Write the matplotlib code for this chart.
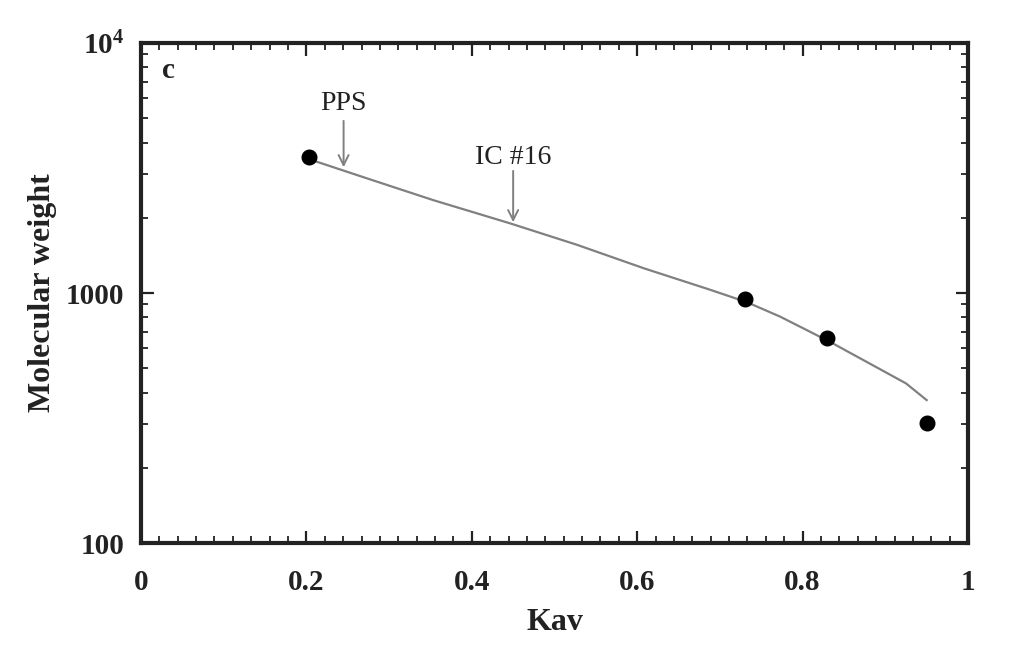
import matplotlib

matplotlib.use("Agg")

import matplotlib.pyplot as plt
from matplotlib.ticker import FixedLocator, FixedFormatter, LogLocator, NullFormatter, MultipleLocator

plt.rcParams["font.family"] = ["Liberation Serif", "DejaVu Serif"]
plt.rcParams["mathtext.fontset"] = "custom"
plt.rcParams["mathtext.rm"] = "Liberation Serif"
plt.rcParams["mathtext.bf"] = "Liberation Serif:bold"

# measured standards (Kav, MW)
kav_pts = [0.203, 0.73, 0.83, 0.95]
mw_pts = [3490, 944, 659, 301]

# calibration curve
kav_fit = [0.2125, 0.273, 0.353, 0.446, 0.527, 0.608, 0.688, 0.733, 0.773, 0.833, 0.894, 0.925, 0.950]
mw_fit = [3352, 2877, 2355, 1901, 1560, 1256, 1031, 918, 804, 638, 495, 435, 373]

# annotations: label, Kav position, label MW, arrow start MW, arrow tip MW
notes = [("PPS", 0.245, 5750, 5010, 3105), ("IC #16", 0.45, 3500, 3160, 1871)]

x_ticks = [0, 0.2, 0.4, 0.6, 0.8, 1.0]
x_labels = ["0", "0.2", "0.4", "0.6", "0.8", "1"]
y_ticks = [100, 1000, 10000]
y_labels = ["100", "1000", r"$\mathbf{10^4}$"]

ink = "#222222"

fig = plt.figure(figsize=(10.09, 6.49), dpi=100)
ax = fig.add_axes([0.1397, 0.1633, 0.8197, 0.7704])

ax.plot(kav_fit, mw_fit, color="#808080", lw=1.6)
ax.plot(kav_pts, mw_pts, "o", color="black", ms=10.5)

for label, x, ytxt, ystart, ytip in notes:
    ax.annotate("", xy=(x, ytip), xytext=(x, ystart),
                arrowprops=dict(arrowstyle="->", color="#808080", lw=1.4, mutation_scale=18))
    ax.text(x, ytxt, label, ha="center", va="center", fontsize=20, color=ink)

ax.text(0.025, 0.93, "c", transform=ax.transAxes, fontsize=21, fontweight="bold", color=ink)

ax.set_yscale("log")
ax.set_xlim(0, 1)
ax.set_ylim(100, 10000)

ax.xaxis.set_major_locator(FixedLocator(x_ticks))
ax.xaxis.set_major_formatter(FixedFormatter(x_labels))
ax.xaxis.set_minor_locator(MultipleLocator(0.2 / 9))

ax.yaxis.set_major_locator(FixedLocator(y_ticks))
ax.yaxis.set_major_formatter(FixedFormatter(y_labels))
ax.yaxis.set_minor_locator(LogLocator(base=10, subs=range(2, 10)))
ax.yaxis.set_minor_formatter(NullFormatter())

ax.tick_params(which="both", direction="in", top=True, right=True, color=ink)
ax.tick_params(which="major", length=9, width=1.6, labelsize=21)
ax.tick_params(which="minor", length=5, width=1.3)
ax.tick_params(axis="x", which="major", pad=19)
ax.tick_params(axis="y", which="major", pad=12)
for lab in ax.get_xticklabels() + ax.get_yticklabels():
    lab.set_fontweight("bold")
    lab.set_color(ink)

for sp in ax.spines.values():
    sp.set_linewidth(3.0)
    sp.set_color(ink)

ax.set_xlabel("Kav", fontsize=23, fontweight="bold", color=ink, labelpad=8)
ax.set_ylabel("Molecular weight", fontsize=23, fontweight="bold", color=ink, labelpad=6)

fig.savefig("out.png", dpi=100)
